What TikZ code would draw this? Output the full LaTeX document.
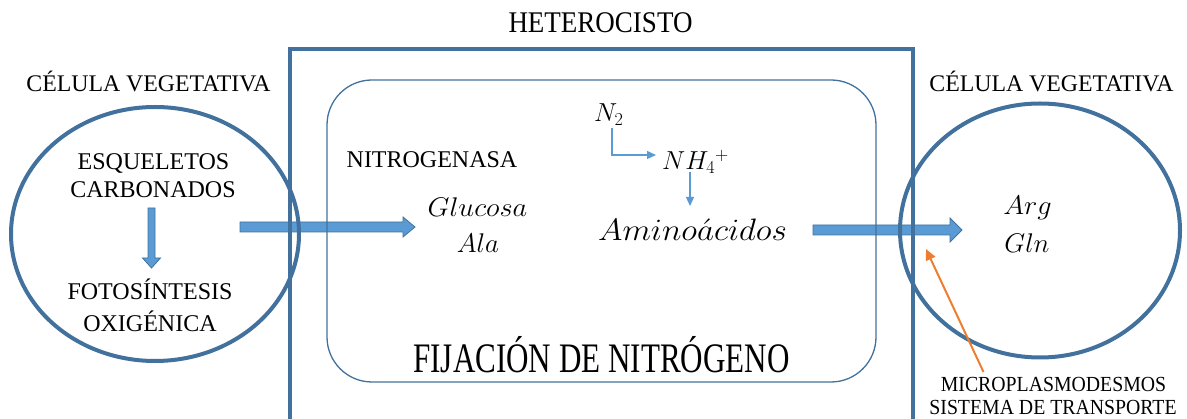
\RequirePackage{fix-cm}
\documentclass[tikz,border=0pt]{standalone}
\usepackage{graphicx}
\usepackage{fontspec}
\setmainfont{Liberation Serif}
\newfontfamily\condHet[FakeStretch=0.9]{Liberation Serif}
\newfontfamily\condFix[FakeStretch=0.74]{Liberation Serif}
\newfontfamily\condMic[FakeStretch=0.92]{Liberation Serif}
\usetikzlibrary{arrows.meta,calc}
\definecolor{cellblue}{RGB}{65,113,156}
\definecolor{arrowfill}{RGB}{91,155,213}
\definecolor{pointer}{RGB}{237,125,49}
\newcommand{\setfs}[1]{\fontsize{#1}{#1}\selectfont}
\newcommand{\hblockarrow}[4]{% x0, x1, y, head half
  \filldraw[blockarrow] (#1,#3-5) -- (#2-12,#3-5) -- (#2-12,#3-#4) -- (#2,#3) -- (#2-12,#3+#4) -- (#2-12,#3+5) -- (#1,#3+5) -- cycle;}
\tikzset{
  txt/.style={inner sep=0pt, anchor=base, text=black},
  blockarrow/.style={fill=arrowfill, draw=cellblue, line width=0.8pt, line join=miter},
  cellline/.style={draw=cellblue, line width=4pt},
  heterobox/.style={draw=cellblue, line width=3.5pt},
  innerbox/.style={draw=cellblue, line width=1.3pt, rounded corners=45pt},
  smallarrow/.style={draw=arrowfill, line width=1.3pt, -{Triangle[length=9pt,width=8pt]}},
  pointerarrow/.style={draw=pointer, line width=2pt, -{Triangle[length=11pt,width=10pt]}}
}
\begin{document}
\begin{tikzpicture}[x=1pt,y=-1pt]
\useasboundingbox (0,0) rectangle (1187,419);
% block arrows (drawn under the outlines)
\hblockarrow{240}{415}{227}{10}
\hblockarrow{813}{962}{230}{12}
\filldraw[blockarrow] (148,208) -- (155,208) -- (155,258) -- (160.5,258) -- (151.5,268) -- (142.5,258) -- (148,258) -- cycle;
% heterocyst and cells
\draw[heterobox] (290,49) rectangle (913,440);
\draw[innerbox] (327,80) rectangle (876,382);
\draw[cellline] (155,234) ellipse [x radius=144pt, y radius=127pt];
\draw[cellline] (1040,230.5) ellipse [x radius=140pt, y radius=127pt];
% labels
\node[txt,font={\condHet\setfs{30}}] (het) at (600.5,33) {HETEROCISTO};
\node[txt,font=\setfs{23.8}] (cvl) at (148.5,92) {CÉLULA VEGETATIVA};
\node[txt,font=\setfs{23.8}] (cvr) at (1051.5,92) {CÉLULA VEGETATIVA};
\node[txt,font=\setfs{24}] (esq) at (153.5,170) {ESQUELETOS};
\node[txt,font=\setfs{24}] (carb) at (153,198) {CARBONADOS};
\node[txt,font=\setfs{24}] (foto) at (150,300) {FOTOSÍNTESIS};
\node[txt,font=\setfs{24}] (oxi) at (150,332) {OXIGÉNICA};
\node[txt,font=\setfs{24}] (nitro) at (432,168) {NITROGENASA};
\node[txt,font=\setfs{27}] (glu) at (477.5,217) {\scalebox{1.05}[1]{$Glucosa$}};
\node[txt,font=\setfs{27}] (ala) at (478,253) {\scalebox{1.0}[1]{$Ala$}};
\node[txt,anchor=base west,font=\setfs{26}] (n2) at (594,122) {$N_2$};
\node[txt,anchor=base west,font=\setfs{26}] (nh4) at (662,170) {$NH_4{}^{+}$};
\node[txt,anchor=base west,font=\setfs{31}] (amino) at (598,241) {\scalebox{1.07}[1]{$Amino\acute{a}cidos$}};
\node[txt,font=\setfs{27}] (arg) at (1027.5,215) {\scalebox{1.05}[1]{$Arg$}};
\node[txt,font=\setfs{27}] (gln) at (1027,253) {\scalebox{1.0}[1]{$Gln$}};
\node[txt,font={\condFix\setfs{42}}] (fix) at (601.5,373) {FIJACIÓN DE NITRÓGENO};
\node[txt,font={\condMic\setfs{21.5}}] (micro) at (1053.5,392) {MICROPLASMODESMOS};
\node[txt,font={\condMic\setfs{21.5}}] (sist) at (1053,415) {SISTEMA DE TRANSPORTE};
% small arrows
\draw[smallarrow] ([xshift=18pt,yshift=-6pt]n2.base west) |- ([xshift=-6pt,yshift=15pt]nh4.base west);
\draw[smallarrow] ([xshift=28pt,yshift=-2pt]nh4.base west) -- ([xshift=92pt,yshift=35pt]amino.base west);
% pointer to the microplasmodesmata
\coordinate (mpd) at (926,249);
\draw[pointerarrow] ([xshift=-70pt,yshift=20pt]micro.base) -- (mpd);
\end{tikzpicture}
\end{document}
